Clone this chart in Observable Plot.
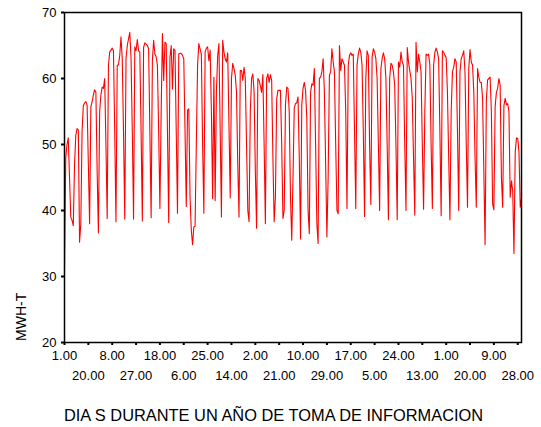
<!DOCTYPE html>
<html><head><meta charset="utf-8">
<script src="https://cdn.jsdelivr.net/npm/d3@7"></script>
<script src="https://cdn.jsdelivr.net/npm/@observablehq/plot@0.6"></script>
<style>
body{margin:0;background:#fff;width:541px;height:427px;overflow:hidden;position:relative;font-family:Arial,"Liberation Sans",sans-serif;}
#cap{position:absolute;left:0;top:406px;width:547px;text-align:center;font-size:16.4px;line-height:18px;color:#000;white-space:nowrap;}
</style></head><body><div id="chart"></div><div id="cap">DIA S DURANTE UN AÑO DE TOMA DE INFORMACION</div>
<script>
// Daily MWH-T values over one year (365 days)
const mwh = [
  31, 48, 50, 51, 45, 39, 38.5,
  37.7, 47, 51.4, 52.4, 52.2, 35.2, 38,
  52, 55.9, 56.3, 56.5, 56, 47, 38,
  55.7, 56.5, 57.5, 58.3, 57.9, 46, 36.6,
  55, 57.5, 58.7, 58.5, 60, 50, 38.8,
  62, 64, 64.3, 64.6, 64.2, 52, 38.3,
  62, 62.1, 63.5, 66.3, 63, 52, 38.7,
  63, 65, 66, 67, 63, 52, 38.7,
  64.8, 64.2, 65.9, 64.2, 64, 52, 38.4,
  64.7, 65.4, 65.2, 65, 64.5, 52, 38.9,
  62.7, 65.8, 63.7, 63.3, 62, 52, 40.3,
  55, 66.8, 59.7, 65.5, 65.3, 52, 38.2,
  63.2, 65, 58.4, 64.5, 64.3, 52, 39.6,
  63.7, 63.8, 63.8, 63.5, 63, 52, 40.6,
  55.2, 55.4, 42, 37, 34.8, 37.5, 37.6,
  50, 62, 65.3, 64.5, 63.7, 50, 39.6,
  64, 64.6, 64.8, 62.7, 64.3, 55, 41.8,
  60.2, 41.5, 58, 63.4, 65.3, 52, 39,
  65.8, 64, 63, 62.5, 63.9, 53, 41.9,
  60, 62.3, 61.5, 60.5, 58, 47, 39,
  61.2, 61.2, 59.7, 61.7, 60, 50, 40,
  38.3, 55, 60, 60.7, 58, 46, 37.3,
  60, 59.7, 58.9, 57.9, 60.6, 50, 38,
  60, 60.7, 59.4, 60.6, 59.7, 48, 38.3,
  42, 56.9, 58.2, 58.2, 58.2, 50, 38.8,
  40, 56, 58.7, 58.5, 55, 42, 35.5,
  45, 55.5, 56.2, 56.3, 57.2, 48, 35.7,
  56, 58.5, 59.4, 58.2, 54, 40, 36.5,
  57.9, 59.2, 59, 61.5, 50, 38, 35,
  60, 60.2, 61, 63, 58, 47, 36,
  45, 60.5, 61, 64.5, 62.5, 61, 50,
  40, 39.5, 65, 61.2, 63, 62.5, 62,
  55, 40.3, 62, 63.5, 63.9, 63.5, 63.7,
  52, 40.3, 62, 63.7, 64.6, 64, 62,
  52, 39.1, 60, 64.2, 63.5, 50, 40.9,
  63.2, 64.5, 64, 63, 60, 50, 40,
  61.5, 63, 63.9, 63, 60, 50, 38.6,
  60, 62.3, 62, 61, 59, 50, 38.6,
  62.5, 61.7, 64, 62.5, 62, 50, 40,
  64.7, 62.5, 61.2, 60, 57, 48, 39.3,
  65.5, 61, 63.7, 62.5, 61, 50, 40.2,
  55, 63.7, 63.5, 63.7, 62, 50, 40.3,
  62, 64, 64.6, 64, 63, 52, 39.2,
  64.2, 64, 63.5, 63.2, 58, 48, 38.6,
  55, 61, 61.7, 63, 62.5, 52, 40,
  61, 63, 63.5, 64.2, 61, 50, 40.5,
  61.5, 64.4, 62.5, 62, 58, 48, 40.5,
  61.5, 60.2, 59.4, 59.4, 57, 46, 34.8,
  56.7, 59.8, 60, 60.2, 55, 41, 40.1,
  55.7, 57.9, 58.5, 60, 59, 45, 40.5,
  55.9, 57, 56, 56.2, 55, 42, 44.5,
  43, 33.5, 48.8, 51, 50.9, 48.8, 40.5,
  41.8
];
// Category tick labels (every 19th day)
const tickLabels = ["1.00","20.00","8.00","27.00","18.00","6.00","25.00","14.00","2.00","21.00",
                    "10.00","29.00","17.00","5.00","24.00","13.00","1.00","20.00","9.00","28.00"];
const tickEvery = 19;
const yTicks = [20, 30, 40, 50, 60, 70];
const yTitle = "MWH-T";

const data = mwh.map((v, i) => ({day: i, v}));
const ticks = tickLabels.map((_, i) => i * tickEvery);
const topTicks = ticks.filter((_, i) => i % 2 === 0);
const botTicks = ticks.filter((_, i) => i % 2 === 1);
const fmt = d => tickLabels[Math.round(d / tickEvery)];

const plot = Plot.plot({
  width: 541, height: 392,
  marginLeft: 64, marginRight: 20, marginTop: 12, marginBottom: 50,
  style: {fontFamily: 'Arial, "Liberation Sans", sans-serif', fontSize: "13px", color: "#000", background: "#fff"},
  x: {domain: [0, mwh.length - 1]},
  y: {domain: [20, 70]},
  marks: [
    Plot.line(data, {x: "day", y: "v", stroke: "#ff0000", strokeWidth: 1.1}),
    Plot.frame({stroke: "#000", strokeWidth: 1.5}),
    Plot.axisY({ticks: yTicks, tickSize: 3, tickPadding: 5, strokeWidth: 2, fontSize: 13, label: null}),
    Plot.axisX({ticks: topTicks, tickFormat: fmt, tickSize: 3, tickPadding: 5, strokeWidth: 2, fontSize: 13, label: null}),
    Plot.axisX({ticks: botTicks, tickFormat: fmt, tickSize: 3, tickPadding: 25, strokeWidth: 2, fontSize: 13, label: null})
  ]
});
// rotated y-axis title, bottom-aligned with the plot area
d3.select(plot).append("text")
  .attr("transform", "translate(26,341) rotate(-90)")
  .attr("text-anchor", "start")
  .attr("fill", "#000")
  .style("font-size", "14px")
  .text(yTitle);
document.getElementById("chart").appendChild(plot);
</script>
</body></html>
